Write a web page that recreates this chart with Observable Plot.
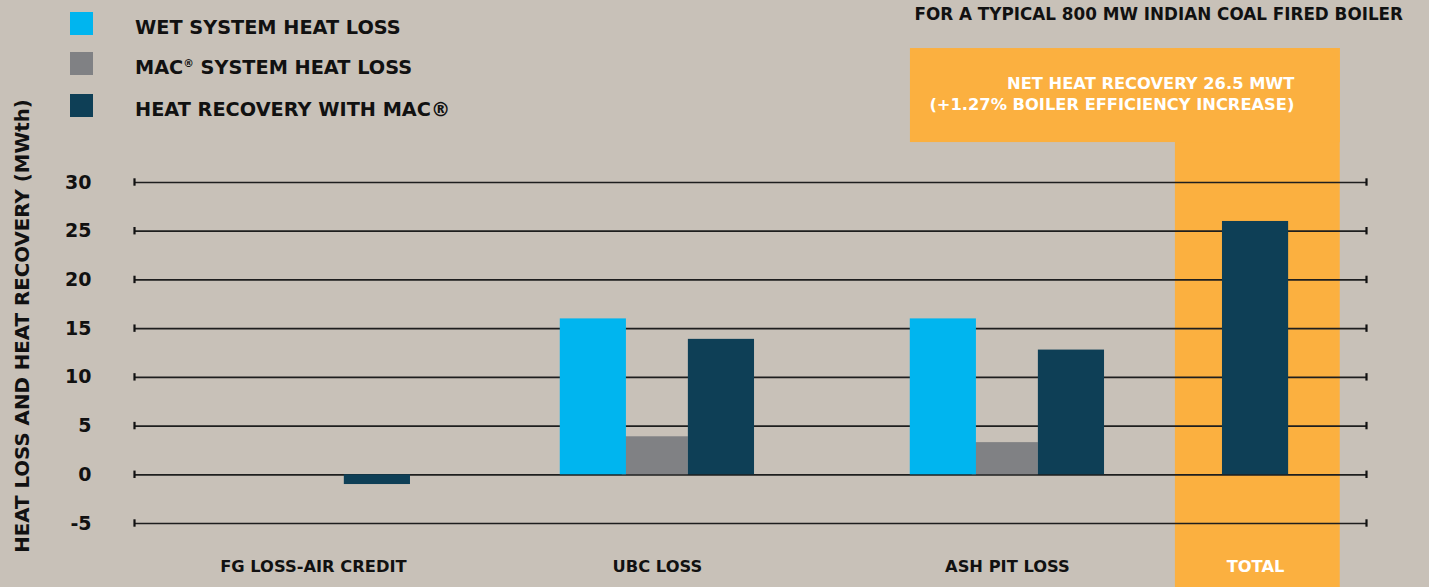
<!DOCTYPE html>
<html><head><meta charset="utf-8">
<script src="https://cdn.jsdelivr.net/npm/d3@7"></script>
<script src="https://cdn.jsdelivr.net/npm/@observablehq/plot@0.6"></script>
<style>
body{margin:0;background:#c8c1b8;}
#wrap{position:relative;width:1429px;height:587px;background:#c8c1b8;overflow:hidden;
  font-family:"DejaVu Sans",sans-serif;font-weight:bold;color:#111;}
#chart{position:absolute;left:0;top:0;}
.sw{position:absolute;left:70px;width:23px;height:23px;}
.lt{position:absolute;left:135px;font-size:19.3px;line-height:1;white-space:nowrap;}
.lt sup{font-size:0.55em;vertical-align:0.7em;line-height:0}
#title{position:absolute;right:26px;top:6px;font-size:16.8px;line-height:1;white-space:nowrap;}
</style>
</head><body>
<div id="wrap">
  <div id="chart"></div>
  <div id="legend"></div>
  <div id="title"></div>
</div>
<script>
// ---- data ----
const categories = ["FG LOSS-AIR CREDIT", "UBC LOSS", "ASH PIT LOSS", "TOTAL"];
const seriesNames = ["WET SYSTEM HEAT LOSS", "MAC<sup>®</sup> SYSTEM HEAT LOSS", "HEAT RECOVERY WITH MAC®"];
const seriesColors = ["#00b5ef", "#808184", "#0e3f56"];
const wetLoss  = [0, 16.0, 16.0, null];
const macLoss  = [0, 3.9, 3.3, null];
const recovery = [-1.0, 13.9, 12.8, 26.0];
const yTicks = [-5, 0, 5, 10, 15, 20, 25, 30];
const yLabel = "HEAT LOSS AND HEAT RECOVERY (MWth)";
const titleText = "FOR A TYPICAL 800 MW INDIAN COAL FIRED BOILER";
const calloutText = "NET HEAT RECOVERY 26.5 MWT\n(+1.27% BOILER EFFICIENCY INCREASE)";
const totalIndex = 3;

// ---- layout (styling, not data) ----
const groupPos = i => [0.017, 1, 2, 2.709][i];
const offsets = [-0.183, -0.006, 0.183];
const barW = 0.189;
const xDomain = [-0.494, 3.026];
const yDomain = [-5, 30];

const seriesValues = [wetLoss, macLoss, recovery];
const bars = [];
// draw order: MAC (grey) first, then wet (cyan) on top, then recovery
for (const j of [1, 0, 2]) {
  categories.forEach((c, i) => {
    const v = seriesValues[j][i];
    if (v == null || v === 0) return;
    const cx = groupPos(i) + (i === totalIndex ? 0 : offsets[j]);
    bars.push({category: c, series: j, value: v, x1: cx - barW / 2, x2: cx + barW / 2});
  });
}

const tp = groupPos(totalIndex);
const highlight = [
  {x1: tp - 0.229, x2: tp + 0.242, y1: -12, y2: 43.75},
  {x1: tp - 0.986, x2: tp + 0.242, y1: 34.1, y2: 43.75}
];

const caps = [];
for (const t of yTicks) for (const x of xDomain) caps.push({x, t});

const plot = Plot.plot({
  width: 1429,
  height: 587,
  marginLeft: 134,
  marginRight: 63,
  marginTop: 182,
  marginBottom: 64,
  x: {type: "linear", domain: xDomain, axis: null},
  y: {domain: yDomain, axis: null},
  style: {background: "transparent", fontFamily: "DejaVu Sans, sans-serif", fontWeight: "bold", color: "#111", overflow: "visible"},
  marks: [
    Plot.rect(highlight, {x1: "x1", x2: "x2", y1: "y1", y2: "y2", fill: "#fbb040"}),
    Plot.ruleY(yTicks, {stroke: "#1e1e1e", strokeWidth: 1.7}),
    Plot.ruleX(caps, {x: "x", y1: d => d.t - 0.38, y2: d => d.t + 0.38, stroke: "#111", strokeWidth: 2.2}),
    Plot.rect(bars, {x1: "x1", x2: "x2", y1: 0, y2: "value", fill: d => seriesColors[d.series]}),
    Plot.axisY(yTicks, {tickSize: 0, tickPadding: 43, fontSize: 19, fontWeight: "bold", label: null, fill: "#111",
      tickFormat: d => String(d)}),
    Plot.text([yLabel], {frameAnchor: "left", textAnchor: "middle", rotate: -90, dx: -112, dy: -27, fontSize: 19.8,
      fontWeight: "bold", fill: "#111"}),
    Plot.text(categories, {x: (d, i) => groupPos(i), frameAnchor: "bottom", dy: 48, fontSize: 16.3, fontWeight: "bold",
      fill: (d, i) => (i === totalIndex ? "#ffffff" : "#111")}),
    Plot.text([calloutText], {x: tp + 0.111, y: 39.24, textAnchor: "end", lineAnchor: "middle", lineHeight: 1.3,
      fontSize: 16.3, fontWeight: "bold", fill: "#ffffff"})
  ]
});
document.getElementById("chart").appendChild(plot);

// legend
const legend = document.getElementById("legend");
const swTops = [12, 52, 94];
seriesNames.forEach((name, j) => {
  const sw = document.createElement("div");
  sw.className = "sw";
  sw.style.top = swTops[j] + "px";
  sw.style.background = seriesColors[j];
  legend.appendChild(sw);
  const t = document.createElement("div");
  t.className = "lt";
  t.style.top = (swTops[j] + 3.5 + 11.5 - 9) + "px";
  t.innerHTML = name;
  legend.appendChild(t);
});
document.getElementById("title").textContent = titleText;
</script>
</body></html>
